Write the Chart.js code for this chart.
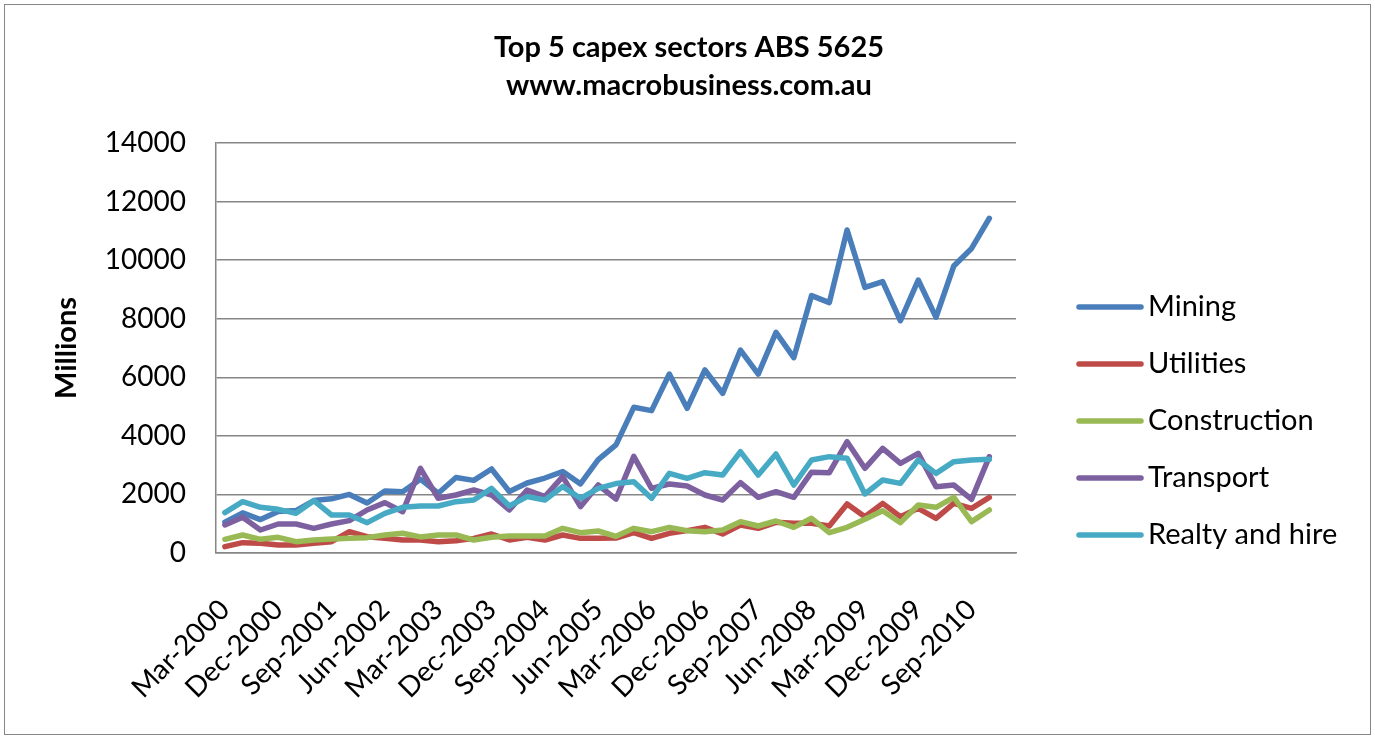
<!DOCTYPE html>
<html>
<head>
<meta charset="utf-8">
<script src="https://cdn.jsdelivr.net/npm/chart.js@4"></script>
<style>
  html, body { margin: 0; padding: 0; background: #fff; }
  #wrap { width: 1375px; height: 739px; }
</style>
</head>
<body>
<div id="wrap"><canvas id="capexChart" width="1375" height="739"></canvas></div>
<script>
// Quarterly categories (last one has no data, as in the original)
const quarters = [
    'Mar-2000', 'Jun-2000', 'Sep-2000', 'Dec-2000',
    'Mar-2001', 'Jun-2001', 'Sep-2001', 'Dec-2001',
    'Mar-2002', 'Jun-2002', 'Sep-2002', 'Dec-2002',
    'Mar-2003', 'Jun-2003', 'Sep-2003', 'Dec-2003',
    'Mar-2004', 'Jun-2004', 'Sep-2004', 'Dec-2004',
    'Mar-2005', 'Jun-2005', 'Sep-2005', 'Dec-2005',
    'Mar-2006', 'Jun-2006', 'Sep-2006', 'Dec-2006',
    'Mar-2007', 'Jun-2007', 'Sep-2007', 'Dec-2007',
    'Mar-2008', 'Jun-2008', 'Sep-2008', 'Dec-2008',
    'Mar-2009', 'Jun-2009', 'Sep-2009', 'Dec-2009',
    'Mar-2010', 'Jun-2010', 'Sep-2010', 'Dec-2010',
    'Mar-2011'
];

// Capex by sector, $ millions
const mining = [1050, 1370, 1140, 1420, 1450, 1790, 1850, 2000, 1710, 2120, 2090, 2520,
    2040, 2580, 2480, 2870, 2100, 2390, 2560, 2780, 2360, 3190, 3690, 4975,
    4860, 6110, 4940, 6250, 5450, 6930, 6110, 7535, 6670, 8790, 8550, 11030,
    9070, 9265, 7930, 9320, 8050, 9800, 10400, 11430];
const utilities = [216, 353, 330, 273, 273, 330, 387, 728, 558, 500, 444, 444,
    387, 421, 500, 649, 444, 535, 444, 615, 500, 500, 510, 694,
    500, 672, 763, 876, 649, 956, 842, 1047, 1013, 1013, 922, 1673,
    1241, 1696, 1241, 1525, 1184, 1696, 1525, 1901];
const construction = [467, 615, 467, 535, 387, 444, 478, 500, 524, 615, 672, 550,
    615, 615, 444, 535, 580, 580, 580, 842, 694, 751, 570, 842,
    728, 876, 763, 728, 785, 1070, 922, 1093, 876, 1184, 694, 876,
    1150, 1445, 1036, 1639, 1559, 1901, 1070, 1468];
const transport = [956, 1218, 785, 990, 990, 842, 990, 1104, 1468, 1719, 1411, 2891,
    1867, 1981, 2151, 1981, 1468, 2151, 1924, 2606, 1582, 2322, 1840, 3300,
    2208, 2356, 2288, 1981, 1810, 2402, 1901, 2094, 1901, 2760, 2743, 3802,
    2891, 3574, 3062, 3403, 2265, 2322, 1832, 3289];
const realty = [1377, 1753, 1559, 1491, 1354, 1787, 1298, 1298, 1036, 1354, 1559, 1605,
    1605, 1753, 1810, 2208, 1605, 1924, 1810, 2265, 1867, 2208, 2370, 2436,
    1867, 2720, 2550, 2743, 2663, 3460, 2663, 3380, 2322, 3176, 3290, 3232,
    2015, 2493, 2379, 3176, 2720, 3119, 3176, 3200];

const yTicks = [0, 2000, 4000, 6000, 8000, 10000, 12000, 14000];
const titleLines = ['Top 5 capex sectors ABS 5625', 'www.macrobusiness.com.au'];

const FONT = 'Lato, "Liberation Sans", sans-serif';

// Title, legend and border drawn by hand so the plot area keeps the Excel proportions
const excelFrame = {
    id: 'excelFrame',
    afterDraw(chart) {
        const ctx = chart.ctx;
        ctx.save();
        ctx.fillStyle = '#000';
        ctx.textAlign = 'center';
        ctx.textBaseline = 'middle';
        ctx.font = 'bold 29px ' + FONT;
        titleLines.forEach((t, i) => ctx.fillText(t, 689, 48 + i * 38));

        chart.data.datasets.forEach((ds, i) => {
            const y = 307 + i * 57;
            ctx.strokeStyle = ds.borderColor;
            ctx.lineWidth = 5.5;
            ctx.lineCap = 'round';
            ctx.beginPath();
            ctx.moveTo(1079, y);
            ctx.lineTo(1141, y);
            ctx.stroke();
            ctx.fillStyle = '#000';
            ctx.font = '29px ' + FONT;
            ctx.textAlign = 'left';
            ctx.fillText(ds.label, 1148, y);
        });

        ctx.strokeStyle = '#868686';
        ctx.lineWidth = 1;
        ctx.strokeRect(4.5, 4.5, 1366, 730);
        ctx.restore();
    }
};

function makeSet(label, data, color, order) {
    return {
        label: label,
        data: data,
        borderColor: color,
        backgroundColor: color,
        borderWidth: 5.5,
        borderJoinStyle: 'round',
        borderCapStyle: 'round',
        pointRadius: 0,
        tension: 0,
        order: order
    };
}

const ctx = document.getElementById('capexChart').getContext('2d');
new Chart(ctx, {
    type: 'line',
    data: {
        labels: quarters,
        datasets: [
            makeSet('Mining', mining, '#4A7EBB', 5),
            makeSet('Utilities', utilities, '#BE4B48', 4),
            makeSet('Construction', construction, '#98B954', 3),
            makeSet('Transport', transport, '#7D60A0', 2),
            makeSet('Realty and hire', realty, '#46AAC5', 1)
        ]
    },
    options: {
        responsive: false,
        animation: false,
        layout: { padding: { top: 143, right: 359, bottom: 0, left: 0 } },
        plugins: {
            legend: { display: false },
            tooltip: { enabled: false },
            title: { display: false }
        },
        scales: {
            x: {
                offset: true,
                grid: { display: false, drawTicks: false },
                border: { display: true, color: '#868686', width: 1.5 },
                ticks: {
                    autoSkip: false,
                    maxRotation: 45,
                    minRotation: 45,
                    padding: 40,
                    color: '#000',
                    font: { family: FONT, size: 28 },
                    callback: function (val, index) {
                        return index % 3 === 0 ? quarters[index] : '';
                    }
                },
                afterFit(scale) { scale.height = 186; }
            },
            y: {
                min: 0,
                max: 14000,
                afterBuildTicks(scale) {
                    scale.ticks = yTicks.map(v => ({ value: v }));
                },
                grid: { color: '#868686', lineWidth: 1.5, drawTicks: false },
                border: { display: true, color: '#868686', width: 1.5 },
                ticks: {
                    padding: 30,
                    color: '#000',
                    font: { family: FONT, size: 28 },
                    callback: v => String(v)
                },
                title: {
                    display: true,
                    text: 'Millions',
                    color: '#000',
                    font: { family: FONT, size: 29, weight: 'bold', lineHeight: 1.2 },
                    padding: { top: 49, bottom: 0 }
                },
                afterFit(scale) { scale.width = 216; }
            }
        }
    },
    plugins: [excelFrame]
});
</script>
</body>
</html>
